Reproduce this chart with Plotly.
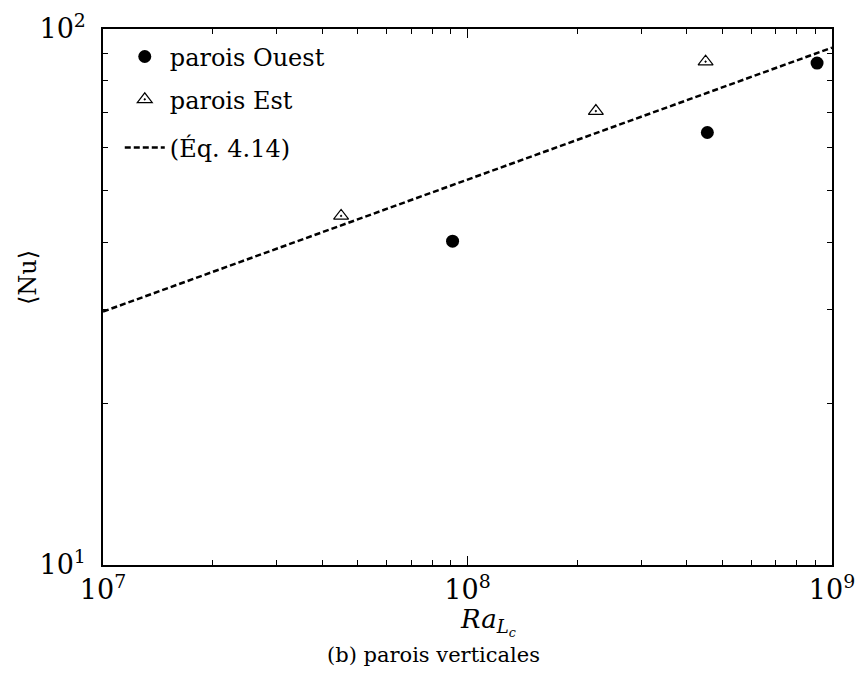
import plotly.graph_objects as go

# Data
ouest_ra = [9.1e7, 4.55e8, 9.1e8]
ouest_nu = [40.2, 64.1, 86.4]
est_ra = [4.5e7, 2.25e8, 4.5e8]
est_nu = [44.8, 70.3, 86.9]
eq_ra = [1e7, 1e8, 1e9]
eq_nu = [29.7, 52.3, 92.3]

x_major = [1e7, 1e8, 1e9]
x_major_text = ["10<sup>7</sup>", "10<sup>8</sup>", "10<sup>9</sup>"]
y_major = [10, 100]
y_major_text = ["10<sup>1</sup>", "10<sup>2</sup>"]
x_minor = [k * 10**e for e in (7, 8) for k in range(2, 10)]
y_minor = [20, 30, 40, 50, 60, 70, 80, 90]

F = "DejaVu Serif"

fig = go.Figure()
fig.add_trace(go.Scatter(x=ouest_ra, y=ouest_nu, mode="markers", name="parois Ouest",
                         legend="legend",
                         marker=dict(symbol="circle", size=13, color="black")))
fig.add_trace(go.Scatter(x=est_ra, y=est_nu, mode="markers", name="parois Est",
                         legend="legend2",
                         marker=dict(symbol="triangle-up-open-dot", size=13, color="black",
                                     line=dict(width=1.2, color="black"))))
fig.add_trace(go.Scatter(x=eq_ra, y=eq_nu, mode="lines", name="(Éq. 4.14)",
                         legend="legend3",
                         line=dict(color="black", width=2.5, dash="6px,3px")))

axis_common = dict(type="log", showgrid=False, zeroline=False, showline=True,
                   linecolor="black", linewidth=1.5, mirror="allticks",
                   ticks="inside", ticklen=9, tickwidth=1, tickcolor="black",
                   automargin=False, ticklabeloverflow="allow",
                   tickfont=dict(family=F, size=27, color="black"))

fig.update_xaxes(**axis_common, range=[7, 9], tickmode="array", tickvals=x_major,
                 ticktext=x_major_text,
                 minor=dict(ticks="inside", ticklen=5, tickwidth=1, tickcolor="black",
                            tickmode="array", tickvals=x_minor))
fig.update_yaxes(**axis_common, range=[1, 2], tickmode="array", tickvals=y_major,
                 ticktext=y_major_text, ticklabelstandoff=10,
                 minor=dict(ticks="inside", ticklen=5, tickwidth=1, tickcolor="black",
                            tickmode="array", tickvals=y_minor))

# axis titles and caption
fig.add_annotation(text="⟨Nu⟩", xref="paper", yref="paper", x=-0.103, y=0.537,
                   textangle=-90, showarrow=False, xanchor="center", yanchor="middle",
                   font=dict(family=F, size=24, color="black"))
fig.add_annotation(text="<i>Ra</i><sub><i>L<sub>c</sub></i></sub>", xref="paper", yref="paper",
                   x=0.487, y=-0.106, showarrow=False, xanchor="left", yanchor="middle",
                   font=dict(family=F, size=26, color="black"))
fig.add_annotation(text="(b) parois verticales", xref="paper", yref="paper",
                   x=0.454, y=-0.167, showarrow=False, xanchor="center", yanchor="middle",
                   font=dict(family=F, size=21, color="black"))

leg_common = dict(x=0.023, xanchor="left", yanchor="middle", bgcolor="rgba(0,0,0,0)",
                  font=dict(family=F, size=24, color="black"), itemwidth=40)

fig.update_layout(
    width=857, height=673,
    margin=dict(l=103, r=25, t=29, b=108),
    plot_bgcolor="white", paper_bgcolor="white",
    showlegend=True,
    legend=dict(y=0.948, **leg_common),
    legend2=dict(y=0.868, **leg_common),
    legend3=dict(y=0.778, **leg_common),
)

fig.write_html("out.html", config={"displayModeBar": False},
               post_script="document.body.style.margin='0';")
